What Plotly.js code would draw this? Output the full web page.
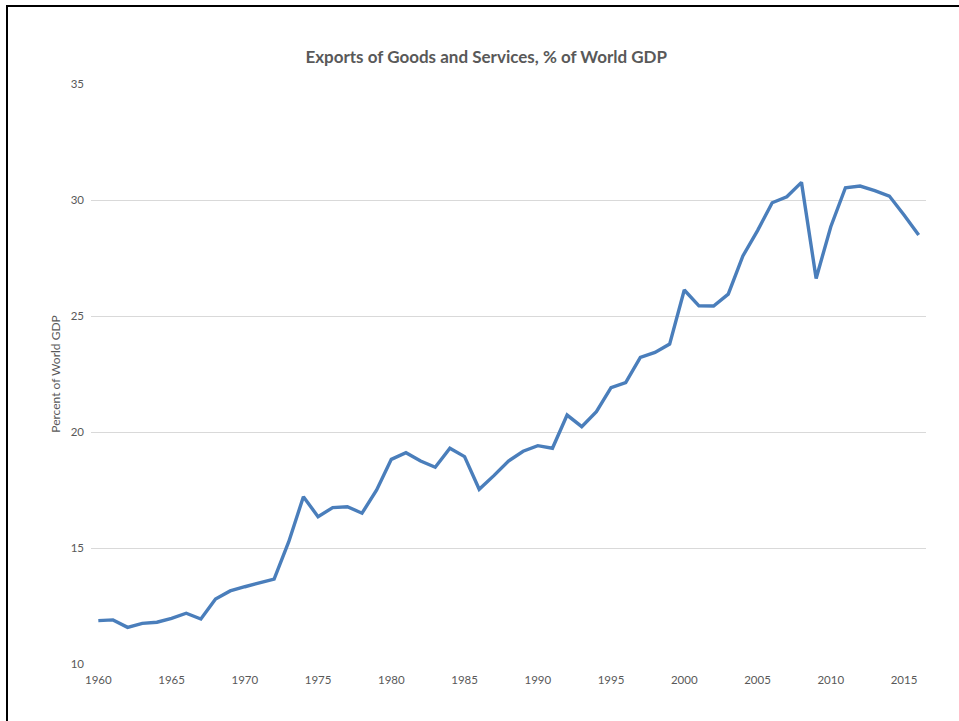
<!DOCTYPE html>
<html>
<head>
<meta charset="utf-8">
<script src="https://cdn.plot.ly/plotly-3.0.1.min.js"></script>
<style>
  html, body { margin: 0; padding: 0; background: #fff; overflow: hidden; }
  #chart { width: 959px; height: 721px; }
  #frame { position: absolute; left: 6px; top: 5px; width: 2000px; height: 2000px;
           border: 2.5px solid #000; pointer-events: none; box-sizing: border-box; }
</style>
</head>
<body>
<div id="chart"></div>
<div id="frame"></div>
<script>
const years = [];
for (let y = 1960; y <= 2016; y++) years.push(y);
const exportsPctGDP = [
  11.87, 11.90, 11.58, 11.75, 11.80, 11.97, 12.19, 11.94, 12.80, 13.15,
  13.33, 13.48, 13.66, 15.27, 17.21, 16.35, 16.74, 16.78, 16.50, 17.50,
  18.82, 19.11, 18.75, 18.48, 19.30, 18.94, 17.53, 18.12, 18.75, 19.17,
  19.41, 19.30, 20.73, 20.23, 20.88, 21.91, 22.13, 23.22, 23.43, 23.79,
  26.12, 25.44, 25.43, 25.94, 27.59, 28.68, 29.88, 30.14, 30.76, 26.62,
  28.85, 30.53, 30.60, 30.40, 30.17, 29.35, 28.49
];
const xTicks = [1960, 1965, 1970, 1975, 1980, 1985, 1990, 1995, 2000, 2005, 2010, 2015];
const yTicks = [10, 15, 20, 25, 30, 35];

const trace = {
  x: years, y: exportsPctGDP, type: 'scatter', mode: 'lines',
  line: { color: '#4a7ebb', width: 3.4 }, hoverinfo: 'skip'
};
const layout = {
  width: 959, height: 721,
  margin: { l: 91, r: 33, t: 84, b: 57 },
  paper_bgcolor: '#fff', plot_bgcolor: '#fff',
  showlegend: false,
  title: { text: '<b>Exports of Goods and Services, % of World GDP</b>',
           font: { family: 'Lato, "Open Sans", sans-serif', size: 17, color: '#595959' },
           x: 0.507, xanchor: 'center', y: 1 - 57/721, yanchor: 'middle' },
  font: { family: 'Lato, "Open Sans", sans-serif', color: '#595959' },
  xaxis: {
    range: [1959.5, 2016.5], tickvals: xTicks, ticktext: xTicks.map(String),
    showgrid: false, zeroline: false, showline: false, ticks: '',
    tickfont: { size: 11.5, color: '#595959' }, ticklabelstandoff: 7
  },
  yaxis: {
    range: [10, 35], tickvals: yTicks, ticktext: yTicks.map(String),
    showgrid: true, gridcolor: '#d9d9d9', gridwidth: 1, zeroline: false, showline: false,
    ticks: '', tickfont: { size: 11.5, color: '#595959' }, ticklabelstandoff: 6,
    title: { text: 'Percent of World GDP', font: { size: 12, color: '#595959' }, standoff: 7 }
  }
};
Plotly.newPlot('chart', [trace], layout, { staticPlot: true, displayModeBar: false });
</script>
</body>
</html>
